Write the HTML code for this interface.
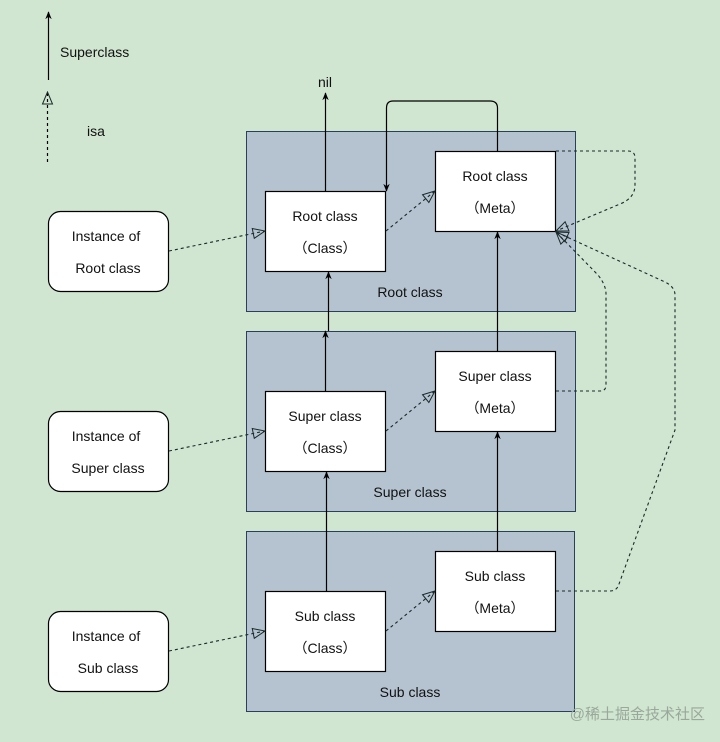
<!DOCTYPE html>
<html><head><meta charset="utf-8"><style>
html,body{margin:0;padding:0;background:#d0e6d1;}
svg{display:block;}
text{font-family:"Liberation Sans",Arial,sans-serif;font-size:14px;fill:#111;}
</style></head><body>
<svg width="720" height="742" viewBox="0 0 720 742" xmlns="http://www.w3.org/2000/svg">
<defs>
<marker id="sa" viewBox="0 0 10 10" refX="9" refY="5" markerWidth="8" markerHeight="8" orient="auto-start-reverse" markerUnits="userSpaceOnUse"><path d="M0,1 L10,5 L0,9 L3,5 z" fill="#000"/></marker>
<marker id="ha" viewBox="0 0 14 12" refX="13" refY="6" markerWidth="14" markerHeight="12" orient="auto" markerUnits="userSpaceOnUse"><path d="M1,1 L13,6 L1,11 z" fill="none" stroke="#1a2a2a" stroke-width="1"/></marker>
</defs>
<rect width="720" height="742" fill="#d0e6d1"/>
<!-- containers -->
<g fill="#b4c3cf" stroke="#2b3f5a" stroke-width="1">
<rect x="246.5" y="131.5" width="329" height="180"/>
<rect x="246.5" y="331.5" width="329" height="180"/>
<rect x="246.5" y="531.5" width="328" height="180"/>
</g>
<g font-size="14">
<text x="410" y="297" text-anchor="middle">Root class</text>
<text x="410" y="497" text-anchor="middle">Super class</text>
<text x="410" y="697" text-anchor="middle">Sub class</text>
</g>
<!-- boxes -->
<g fill="#fff" stroke="#000" stroke-width="1.2">
<rect x="265.5" y="191.5" width="120" height="80"/>
<rect x="435.5" y="151.5" width="120" height="80"/>
<rect x="265.5" y="391.5" width="120" height="80"/>
<rect x="435.5" y="351.5" width="120" height="80"/>
<rect x="265.5" y="591.5" width="120" height="80"/>
<rect x="435.5" y="551.5" width="120" height="80"/>
<rect x="48.5" y="211.5" width="120" height="80" rx="12"/>
<rect x="48.5" y="411.5" width="120" height="80" rx="12"/>
<rect x="48.5" y="611.5" width="120" height="80" rx="12"/>
</g>
<g text-anchor="middle">
<text x="325" y="221">Root class</text><text x="325" y="253">（Class）</text>
<text x="495" y="181">Root class</text><text x="495" y="213">（Meta）</text>
<text x="325" y="421">Super class</text><text x="325" y="453">（Class）</text>
<text x="495" y="381">Super class</text><text x="495" y="413">（Meta）</text>
<text x="325" y="621">Sub class</text><text x="325" y="653">（Class）</text>
<text x="495" y="581">Sub class</text><text x="495" y="613">（Meta）</text>
<text x="106" y="241">Instance of</text><text x="108" y="273">Root class</text>
<text x="106" y="441">Instance of</text><text x="108" y="473">Super class</text>
<text x="106" y="641">Instance of</text><text x="108" y="673">Sub class</text>
</g>
<!-- legend -->
<line x1="48.5" y1="80" x2="48.5" y2="12" stroke="#000" stroke-width="1.2" marker-end="url(#sa)"/>
<text x="60" y="57">Superclass</text>
<line x1="47.5" y1="162" x2="47.5" y2="92" stroke="#000" stroke-width="1.2" stroke-dasharray="3,3" marker-end="url(#ha)"/>
<text x="87" y="136">isa</text>
<!-- nil -->
<line x1="325.5" y1="191" x2="325.5" y2="93" stroke="#000" stroke-width="1.2" marker-end="url(#sa)"/>
<text x="325" y="87" text-anchor="middle">nil</text>
<!-- superclass solid -->
<g stroke="#000" stroke-width="1.2" fill="none" marker-end="url(#sa)">
<line x1="328.5" y1="331" x2="328.5" y2="272"/>
<line x1="325.5" y1="391" x2="325.5" y2="331"/>
<line x1="326.5" y1="591" x2="326.5" y2="472"/>
<line x1="497.5" y1="351" x2="497.5" y2="232"/>
<line x1="497.5" y1="551" x2="497.5" y2="432"/>
<path d="M497.5,151 V108 Q497.5,101 490,101 H393 Q386.5,101 386.5,108 V191"/>
</g>
<!-- isa dashed -->
<g stroke="#1a2a2a" stroke-width="1.1" fill="none" stroke-dasharray="3,3" marker-end="url(#ha)">
<line x1="169" y1="251" x2="265" y2="231"/>
<line x1="169" y1="451" x2="265" y2="431"/>
<line x1="169" y1="651" x2="265" y2="631"/>
<line x1="386" y1="231" x2="435" y2="191"/>
<line x1="386" y1="431" x2="435" y2="391"/>
<line x1="386" y1="631" x2="435" y2="591"/>
<path d="M556,151 H628 Q635,151 635,158 V185 Q635,198 620,204 L556,231"/>
<path d="M556,391 H600 Q606,391 606,385 V294 Q606,285 598,275 L556,232"/>
<path d="M556,591 H610 Q617,591 619,584 L675,430 V295 Q675,287 665,282 L556,232"/>
</g>
<text x="705" y="719" text-anchor="end" style="font-family:'Liberation Sans','Noto Sans CJK SC',sans-serif;font-size:15px;fill:#9aa79b;">@稀土掘金技术社区</text>
</svg>
</body></html>
